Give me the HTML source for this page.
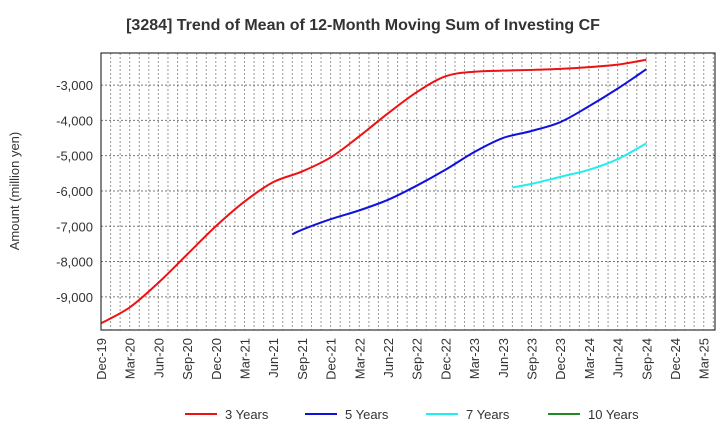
<!DOCTYPE html>
<html><head><meta charset="utf-8"><style>
body{margin:0;background:#fff;font-family:"Liberation Sans",sans-serif}
</style></head><body>
<svg id="c" width="720" height="440" xmlns="http://www.w3.org/2000/svg">
<text x="363" y="30" text-anchor="middle" font-size="16" font-weight="bold" fill="#333">[3284]  Trend of Mean of 12-Month Moving Sum of Investing CF</text>
<text transform="translate(19,191) rotate(-90)" text-anchor="middle" font-size="13" fill="#333">Amount (million yen)</text>
<g id="grid"></g><g id="series"></g><g id="axes"></g><g id="legend"></g>
</svg>
<script>
const xLabels=["Dec-19","Mar-20","Jun-20","Sep-20","Dec-20","Mar-21","Jun-21","Sep-21","Dec-21","Mar-22","Jun-22","Sep-22","Dec-22","Mar-23","Jun-23","Sep-23","Dec-23","Mar-24","Jun-24","Sep-24","Dec-24","Mar-25"];
const yTicks=[-9000,-8000,-7000,-6000,-5000,-4000,-3000];
const m3=[0,3,6,9,12,15,18,21,24,27,30,33,36,39,42,45,48,51,54,57];
const v3=[-9750,-9300,-8600,-7800,-7000,-6300,-5750,-5450,-5050,-4450,-3800,-3200,-2750,-2620,-2590,-2570,-2540,-2490,-2420,-2280];
const m5=[20,21,24,27,30,33,36,39,42,45,48,51,54,57];
const v5=[-7230,-7100,-6800,-6550,-6250,-5850,-5400,-4900,-4500,-4300,-4050,-3600,-3100,-2550];
const m7=[43,45,48,51,54,57];
const v7=[-5900,-5800,-5600,-5400,-5100,-4650];
const m10=[];const v10=[];
const L=101,R=715,T=53,B=330,YMIN=-9940,YMAX=-2090,PXM=9.567;
const x=m=>L+PXM*m, y=v=>B-(B-T)*(v-YMIN)/(YMAX-YMIN);
const NS="http://www.w3.org/2000/svg";
function mk(t,a,p){const e=document.createElementNS(NS,t);for(const k in a)e.setAttribute(k,a[k]);p.appendChild(e);return e;}
const grid=document.getElementById('grid'),axes=document.getElementById('axes'),ser=document.getElementById('series'),leg=document.getElementById('legend');
for(let m=1;x(m)<R-1;m++){const l=mk('line',{x1:x(m),x2:x(m),y1:T,y2:B,stroke:'#999','stroke-dasharray':'2,2','stroke-width':1},grid);

}
yTicks.forEach(v=>{const l=mk('line',{x1:L,x2:R,y1:y(v),y2:y(v),stroke:'#777','stroke-dasharray':'2,2'},grid);


const t=mk('text',{x:L-8,y:y(v)+5,'text-anchor':'end','font-size':13,fill:'#333'},axes);t.textContent=v.toLocaleString('en-US');

});
const fr=mk('rect',{x:L,y:T,width:R-L,height:B-T,fill:'none',stroke:'#333','stroke-width':1.2},axes);


xLabels.forEach((s,i)=>{const xx=x(i*3);const t=mk('text',{transform:`translate(${xx+5},${B+8}) rotate(-90)`,'text-anchor':'end','font-size':13,fill:'#333'},axes);t.textContent=s;

});
function path(ms,vs){if(!ms.length)return'';const p=ms.map((m,i)=>[x(m),y(vs[i])]);let d=`M${p[0][0]},${p[0][1]}`;
for(let i=0;i<p.length-1;i++){const p0=p[i-1]||p[i],p1=p[i],p2=p[i+1],p3=p[i+2]||p2;
d+=` C${p1[0]+(p2[0]-p0[0])/6},${p1[1]+(p2[1]-p0[1])/6} ${p2[0]-(p3[0]-p1[0])/6},${p2[1]-(p3[1]-p1[1])/6} ${p2[0]},${p2[1]}`;}return d;}
const S=[["3 Years",m3,v3,"#ee1111"],["5 Years",m5,v5,"#1111dd"],["7 Years",m7,v7,"#22eeee"],["10 Years",m10,v10,"#228822"]];
const lx=[185,305,426,548];
S.forEach((s,i)=>{const p=mk('path',{d:path(s[1],s[2]),fill:'none',stroke:s[3],'stroke-width':2},ser);


const g=mk('g',{},leg);


mk('line',{x1:lx[i],x2:lx[i]+32,y1:414,y2:414,stroke:s[3],'stroke-width':2},g);
const t=mk('text',{x:lx[i]+40,y:419,'font-size':13,fill:'#333'},g);t.textContent=s[0];});
</script>
</body></html>
